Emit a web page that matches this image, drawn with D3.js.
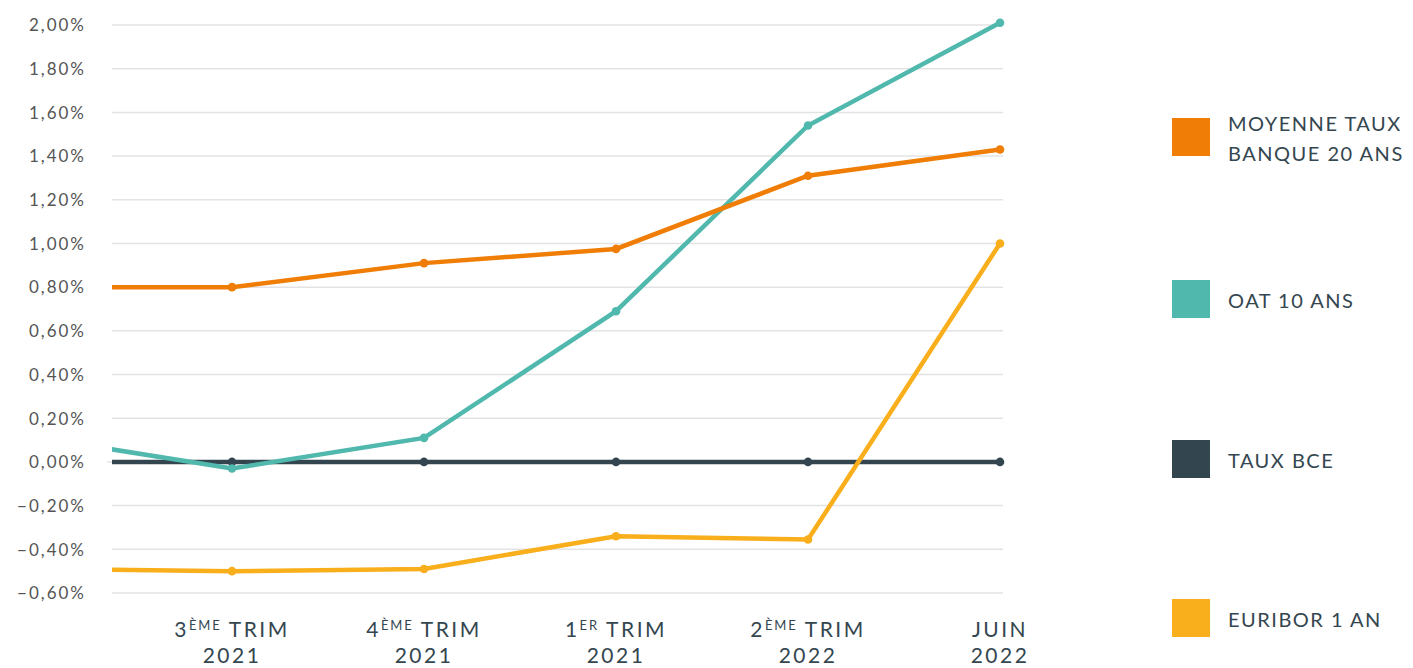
<!DOCTYPE html>
<html>
<head>
<meta charset="utf-8">
<script src="https://cdn.jsdelivr.net/npm/d3@7"></script>
<style>
	body { margin: 0; background: #fff; }
	svg { display: block; font-family: Lato, "Open Sans", sans-serif; }
</style>
</head>
<body>
<div id="chart"></div>
<script>
// The first category lies left of the visible plot area (chart was cropped there)
const categories = ["2ÈME TRIM 2021", "3ÈME TRIM 2021", "4ÈME TRIM 2021", "1ER TRIM 2021", "2ÈME TRIM 2022", "JUIN 2022"];
const moyenneTaux = [0.80, 0.80, 0.91, 0.975, 1.31, 1.43];
const oat10 = [0.11, -0.03, 0.11, 0.69, 1.54, 2.01];
const tauxBce = [0, 0, 0, 0, 0, 0];
const euribor = [-0.49, -0.50, -0.49, -0.34, -0.355, 1.00];
const yTicks = [-0.6, -0.4, -0.2, 0, 0.2, 0.4, 0.6, 0.8, 1.0, 1.2, 1.4, 1.6, 1.8, 2.0];

const seriesNames = [["MOYENNE TAUX", "BANQUE 20 ANS"], ["OAT 10 ANS"], ["TAUX BCE"], ["EURIBOR 1 AN"]];
const seriesValues = [moyenneTaux, oat10, tauxBce, euribor];
const seriesColors = ["#f07d05", "#50b8ad", "#33464f", "#f9ae1b"];
// draw order, bottom first
const drawOrder = [2, 1, 0, 3];

const width = 1413, height = 668;
const plot = { left: 112, top: 25, width: 891, height: 568 };

const svg = d3.select("#chart").append("svg")
	.attr("width", width)
	.attr("height", height);

const g = svg.append("g")
	.attr("transform", `translate(${plot.left}, ${plot.top})`);

const x = d3.scalePoint().domain(categories).range([-72, 888]);
const y = d3.scaleLinear().domain([-0.6, 2.0]).range([plot.height, 0]);

const fr = d3.formatLocale({ decimal: ",", thousands: " ", grouping: [3], currency: ["", "€"] });
const fmt = fr.format(".2f");

// Grid lines
g.append("g").attr("class", "grid")
	.selectAll("line")
	.data(yTicks)
	.join("line")
	.attr("x1", d => d === 0 ? -5 : 0)
	.attr("x2", plot.width)
	.attr("y1", d => y(d))
	.attr("y2", d => y(d))
	.attr("stroke", "#e3e3e3")
	.attr("stroke-width", 1.5);

// Y labels
g.append("g").attr("class", "yAxis")
	.selectAll("text")
	.data(yTicks)
	.join("text")
	.attr("x", -26)
	.attr("y", d => y(d))
	.attr("dy", "0.37em")
	.attr("text-anchor", "end")
	.attr("fill", "#555")
	.attr("font-size", 17)
	.attr("letter-spacing", 2)
	.text(d => fmt(d) + "%");

// X labels (only categories inside the plot)
const xg = g.append("g").attr("class", "xAxis");
categories.forEach(c => {
	if (x(c) < 0) return;
	const m = c.match(/^(\d)(ÈME|ER) (TRIM) (\d{4})$/);
	const t = xg.append("text")
		.attr("x", x(c))
		.attr("y", 612)
		.attr("text-anchor", "middle")
		.attr("fill", "#34464f")
		.attr("font-size", 21)
		.attr("letter-spacing", 2.5);
	const line1 = t.append("tspan").attr("x", x(c));
	if (m) {
		line1.append("tspan").text(m[1]);
		line1.append("tspan").attr("font-size", 13).attr("letter-spacing", 1.8).attr("dy", -7).text(m[2]);
		line1.append("tspan").attr("dy", 7).text(" " + m[3]);
		t.append("tspan").attr("x", x(c)).attr("dy", 26).text(m[4]);
	} else {
		const parts = c.split(" ");
		line1.text(parts[0]);
		t.append("tspan").attr("x", x(c)).attr("dy", 26).text(parts[1]);
	}
});

// Clip lines to the visible plot area
g.append("clipPath").attr("id", "clip")
	.append("rect")
	.attr("x", 0).attr("y", -20)
	.attr("width", plot.width + 30)
	.attr("height", plot.height + 40);

const line = d3.line()
	.x((d, i) => x(categories[i]))
	.y(d => y(d));

const lines = g.append("g").attr("clip-path", "url(#clip)");
drawOrder.forEach(k => {
	const s = lines.append("g");
	s.append("path")
		.datum(seriesValues[k])
		.attr("d", line)
		.attr("fill", "none")
		.attr("stroke", seriesColors[k])
		.attr("stroke-width", 4.5);
	s.selectAll("circle")
		.data(seriesValues[k])
		.join("circle")
		.attr("cx", (d, i) => x(categories[i]))
		.attr("cy", d => y(d))
		.attr("r", 4.3)
		.attr("fill", seriesColors[k]);
});

// Legend
const legendTop = [118, 280, 440, 599];
const legend = svg.append("g").attr("class", "legend");
seriesNames.forEach((name, k) => {
	const lg = legend.append("g").attr("transform", `translate(1172, ${legendTop[k]})`);
	lg.append("rect")
		.attr("width", 38)
		.attr("height", 38)
		.attr("fill", seriesColors[k]);
	const t = lg.append("text")
		.attr("fill", "#34464f")
		.attr("font-size", 20)
		.attr("letter-spacing", 1.5);
	const startY = name.length > 1 ? 13 : 28;
	name.forEach((l, j) => {
		t.append("tspan").attr("x", 56).attr("y", startY + j * 30).text(l);
	});
});
</script>
</body>
</html>
